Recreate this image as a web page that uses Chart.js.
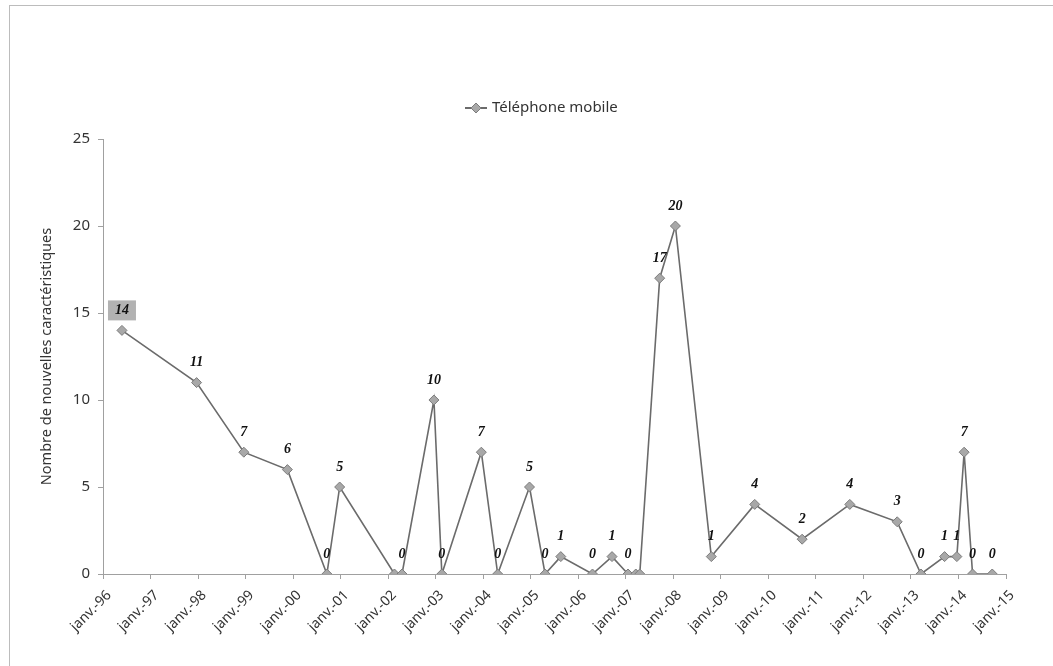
<!DOCTYPE html>
<html>
<head>
<meta charset="utf-8">
<script src="https://cdn.jsdelivr.net/npm/chart.js@4.4.0/dist/chart.umd.min.js"></script>
<style>
  html, body { margin: 0; padding: 0; background: #fff; }
  #wrap { position: relative; width: 1053px; height: 666px; overflow: hidden; }
  #frame { position: absolute; left: 9px; top: 5px; width: 1100px; height: 700px;
           border-left: 1px solid #bcbcbc; border-top: 1px solid #bcbcbc; }
  canvas { position: absolute; left: 0; top: 0; }
</style>
</head>
<body>
<div id="wrap">
  <div id="frame"></div>
  <canvas id="chart" width="1053" height="666"></canvas>
</div>
<script>
// release dates and number of new features
const dates = [
  '1996-05-25', '1997-12-20', '1998-12-18', '1999-11-18', '2000-09-17', '2000-12-24',
  '2002-02-19', '2002-04-16', '2002-12-18', '2003-02-18', '2003-12-17', '2004-04-21',
  '2004-12-22', '2005-04-20', '2005-08-19', '2006-04-19', '2006-09-17', '2007-01-18',
  '2007-03-17', '2007-04-17', '2007-09-18', '2008-01-17', '2008-10-19', '2009-09-18',
  '2010-09-17', '2011-09-18', '2012-09-17', '2013-03-17', '2013-09-16', '2013-12-19',
  '2014-02-14', '2014-04-18', '2014-09-17'
];
const values = [
  14, 11, 7, 6, 0, 5,
  0, 0, 10, 0, 7, 0,
  5, 0, 1, 0, 1, 0,
  0, 0, 17, 20, 1, 4,
  2, 4, 3, 0, 1, 1,
  7, 0, 0
];
const hiddenLabels = [6, 18, 19];   // labels Excel did not show (overlapping zeros)
const boxedLabels = [0];            // label with grey background
const yTicks = [0, 5, 10, 15, 20, 25];
const firstYear = 1996;
const lastYear = 2015;
const tickPrefix = 'janv.-';
const seriesName = 'Téléphone mobile';
const yTitle = 'Nombre de nouvelles caractéristiques';

const LINE = '#6b6b6b';
const MARK_FILL = '#a8a8a8';
const MARK_EDGE = '#7c7c7c';
const AXIS = '#a0a0a0';
const TEXT = '#333';

function toYear(s) {
  const [y, m, d] = s.split('-').map(Number);
  return y + (m - 1) / 12 + (d - 1) / 365;
}

const points = dates.map((d, i) => ({ x: toYear(d), y: values[i] }));

const pointLabels = {
  id: 'pointLabels',
  afterDatasetsDraw(chart) {
    const ctx = chart.ctx;
    const meta = chart.getDatasetMeta(0);
    ctx.save();
    ctx.font = 'italic bold 14px "Liberation Serif", serif';
    ctx.textAlign = 'center';
    ctx.textBaseline = 'middle';
    meta.data.forEach((pt, i) => {
      if (hiddenLabels.includes(i)) return;
      const txt = String(values[i]);
      const x = pt.x, y = pt.y - 20;
      if (boxedLabels.includes(i)) {
        ctx.fillStyle = '#b2b2b2';
        ctx.fillRect(x - 14, y - 10, 28, 20);
      }
      ctx.fillStyle = '#111';
      ctx.fillText(txt, x, y);
    });
    ctx.restore();
  }
};

const lineLegend = {
  id: 'lineLegend',
  afterDraw(chart) {
    const ctx = chart.ctx;
    const y = 108, x0 = 465;
    ctx.save();
    ctx.strokeStyle = LINE;
    ctx.lineWidth = 2;
    ctx.beginPath();
    ctx.moveTo(x0, y);
    ctx.lineTo(x0 + 22, y);
    ctx.stroke();
    ctx.fillStyle = MARK_FILL;
    ctx.strokeStyle = MARK_EDGE;
    ctx.lineWidth = 1;
    ctx.beginPath();
    ctx.moveTo(x0 + 11, y - 5);
    ctx.lineTo(x0 + 16, y);
    ctx.lineTo(x0 + 11, y + 5);
    ctx.lineTo(x0 + 6, y);
    ctx.closePath();
    ctx.fill();
    ctx.stroke();
    ctx.font = '15px "Noto Sans", sans-serif';
    ctx.fillStyle = TEXT;
    ctx.textAlign = 'left';
    ctx.textBaseline = 'middle';
    ctx.fillText(seriesName, x0 + 27, y);
    ctx.restore();
  }
};

new Chart(document.getElementById('chart'), {
  type: 'line',
  data: {
    datasets: [{
      label: seriesName,
      data: points,
      borderColor: LINE,
      borderWidth: 1.6,
      pointStyle: 'rectRot',
      pointRadius: 5,
      pointBackgroundColor: MARK_FILL,
      pointBorderColor: MARK_EDGE,
      pointBorderWidth: 1,
      tension: 0
    }]
  },
  options: {
    responsive: false,
    animation: false,
    devicePixelRatio: 1,
    layout: { padding: { top: 139, right: 47, left: 0, bottom: 0 } },
    plugins: { legend: { display: false }, tooltip: { enabled: false } },
    scales: {
      x: {
        type: 'linear',
        min: firstYear,
        max: lastYear,
        afterFit(s) { s.height = 92; },
        afterBuildTicks(s) {
          s.ticks = [];
          for (let yr = firstYear; yr <= lastYear; yr++) s.ticks.push({ value: yr });
        },
        ticks: {
          autoSkip: false,
          minRotation: 45,
          maxRotation: 45,
          padding: 8,
          labelOffset: 6,
          color: TEXT,
          font: { family: '"Noto Sans", sans-serif', size: 14 },
          callback: v => tickPrefix + String(v).slice(2)
        },
        grid: { drawOnChartArea: false, drawTicks: true, tickLength: 5, color: AXIS },
        border: { color: AXIS, width: 1 }
      },
      y: {
        min: 0,
        max: 25,
        afterFit(s) { s.width = 103; },
        afterBuildTicks(s) { s.ticks = yTicks.map(v => ({ value: v })); },
        ticks: {
          padding: 8,
          color: TEXT,
          font: { family: '"Noto Sans", sans-serif', size: 15 }
        },
        grid: { drawOnChartArea: false, drawTicks: true, tickLength: 5, color: AXIS },
        border: { color: AXIS, width: 1 },
        title: {
          display: true,
          text: yTitle,
          color: TEXT,
          font: { family: '"Noto Sans", sans-serif', size: 14.5 },
          padding: { top: 38, bottom: 0 }
        }
      }
    }
  },
  plugins: [pointLabels, lineLegend]
});
</script>
</body>
</html>
